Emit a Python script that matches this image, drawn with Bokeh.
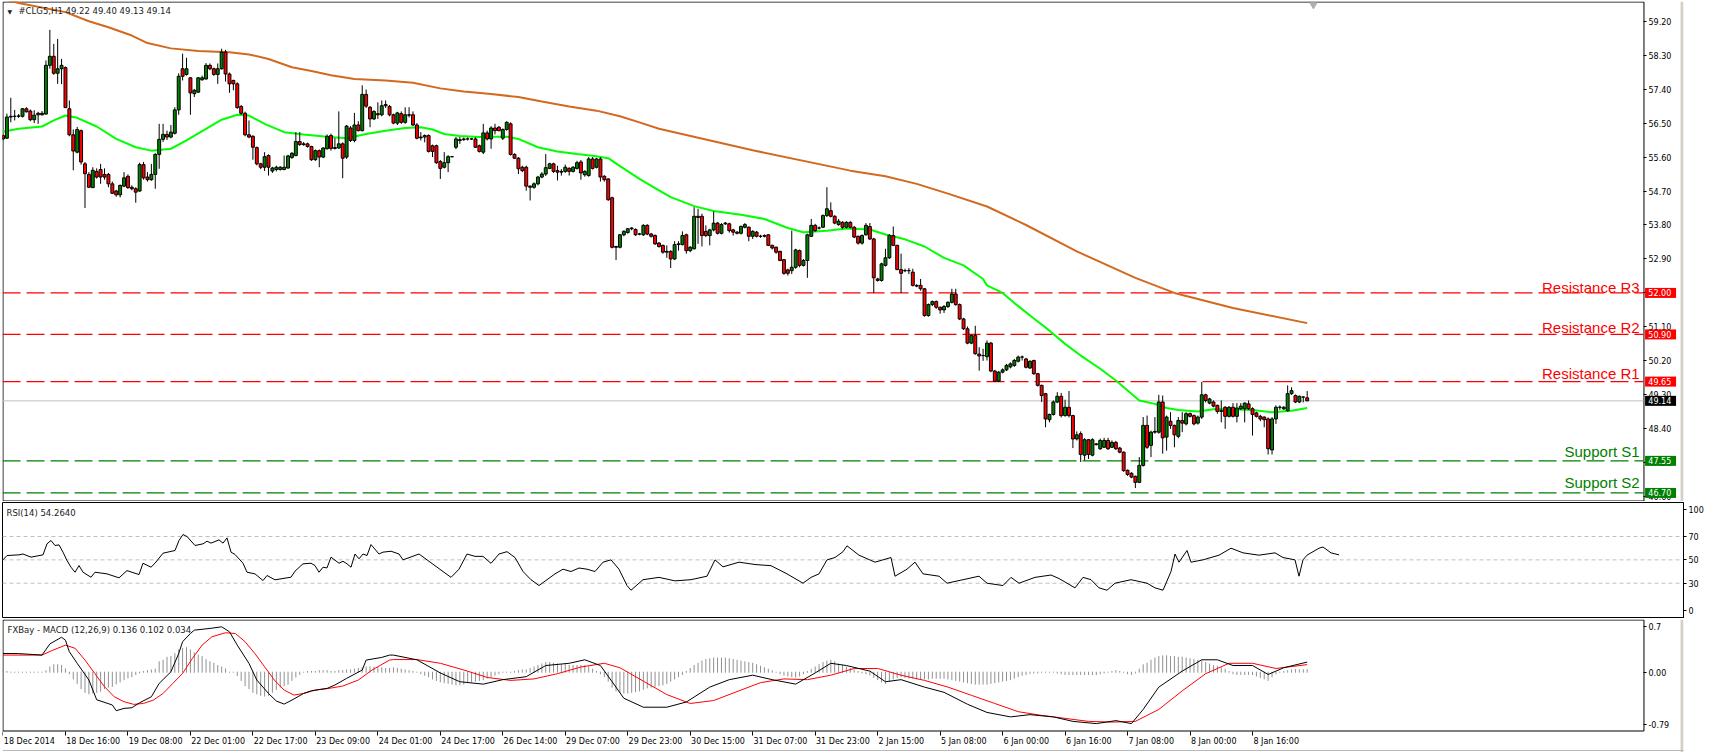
from bokeh.plotting import figure
from bokeh.models import Range1d, FixedTicker, ColumnDataSource, NumeralTickFormatter
from bokeh.layouts import column
from bokeh.embed import file_html
from bokeh.resources import INLINE
from bokeh.core.properties import value

# ---------------- data ----------------
opens = [56.17,56.10,56.66,56.68,56.68,56.68,56.88,56.82,56.59,56.76,56.72,56.74,58.03,58.27,57.82,57.94,57.97,56.88,56.19,55.73,
56.30,55.42,55.14,54.79,55.22,55.27,55.14,55.14,54.89,54.70,54.60,54.83,55.09,54.80,54.76,54.70,55.40,55.07,55.00,55.14,
55.67,56.07,56.20,56.13,56.23,56.85,57.94,57.79,57.70,57.28,57.32,57.65,57.67,58.03,57.94,57.79,57.94,58.38,57.80,57.63,
57.54,56.94,56.76,56.19,56.15,55.85,55.42,55.33,55.64,55.23,55.27,55.27,55.27,55.31,55.59,55.64,56.01,55.93,55.95,55.88,
55.53,55.77,55.60,55.82,56.17,55.83,55.84,55.95,55.60,56.37,56.04,56.45,56.30,57.26,56.92,56.61,56.75,56.72,56.96,56.94,
56.72,56.50,56.75,56.52,56.72,56.72,56.45,56.11,56.17,56.17,55.90,55.90,55.48,55.33,55.45,55.61,55.86,56.06,56.06,56.08,
56.08,56.08,55.90,55.73,56.24,56.08,56.37,56.39,56.10,56.33,56.48,55.67,55.57,55.33,55.33,54.83,54.80,54.89,55.07,55.15,
55.30,55.42,55.24,55.20,55.22,55.30,55.22,55.30,55.47,55.13,55.11,55.55,55.33,55.55,55.09,55.02,54.52,53.23,53.21,53.54,
53.60,53.70,53.68,53.56,53.54,53.79,53.56,53.52,53.32,53.26,53.08,53.10,52.90,53.28,53.28,53.54,53.12,53.17,54.03,54.03,
53.63,53.52,53.67,53.85,53.58,53.83,53.83,53.67,53.61,53.58,53.74,53.74,53.50,53.61,53.50,53.50,53.54,53.26,53.21,53.10,
52.88,52.61,52.59,52.68,53.12,52.73,52.86,53.50,53.79,53.72,53.74,54.05,54.18,54.03,53.81,53.87,53.74,53.87,53.74,53.50,
53.32,53.54,53.76,53.43,52.37,52.33,52.73,52.93,53.52,53.26,52.62,52.59,52.59,52.55,52.20,52.20,52.11,51.40,51.69,51.77,
51.62,51.55,51.64,51.75,51.97,51.69,51.31,51.05,50.67,50.87,50.38,50.34,50.31,50.67,49.93,49.66,49.90,49.96,50.04,50.08,
50.19,50.30,50.25,50.01,50.21,49.86,49.55,49.33,48.64,48.78,49.11,49.26,48.75,48.97,48.75,48.13,48.27,47.70,48.11,47.70,
48.00,47.87,47.91,48.09,47.91,48.04,47.89,47.78,47.30,47.22,47.14,46.98,47.43,48.49,47.96,48.31,48.31,49.11,48.18,48.60,
48.49,48.20,48.62,48.53,48.80,48.75,48.55,48.71,49.30,49.08,49.11,49.02,48.88,48.97,48.73,48.97,48.73,48.93,48.93,49.06,
48.93,48.82,48.73,48.71,48.66,47.84,48.66,48.97,48.93,48.88,49.33,49.28,49.11,49.24,49.22]
highs = [56.20,56.75,57.17,56.85,56.74,56.90,56.92,56.86,56.84,56.80,56.82,58.16,58.97,58.60,58.73,58.20,58.00,57.10,56.33,56.40,
56.33,55.47,55.20,55.33,55.30,55.42,55.30,55.18,54.95,54.73,54.87,55.20,55.14,54.85,54.80,55.45,55.47,55.20,55.42,55.70,
56.48,56.48,56.30,56.45,56.92,57.82,58.34,58.23,57.72,57.40,57.72,57.76,58.09,58.08,57.97,58.08,58.47,58.44,57.84,57.65,
57.58,56.98,56.80,56.57,56.18,55.88,55.45,55.73,55.67,55.34,55.37,55.36,55.64,55.66,55.73,56.26,56.26,56.00,55.98,55.90,
55.80,55.80,55.86,56.20,56.22,56.10,56.81,55.99,56.45,56.42,56.77,56.55,57.50,57.39,56.95,56.84,57.05,57.10,57.10,56.98,
56.75,56.80,56.81,56.92,56.92,56.81,56.50,56.26,56.20,56.20,55.93,55.93,55.52,55.73,55.65,55.63,56.13,56.13,56.12,56.12,
56.10,56.12,55.93,56.48,56.30,56.42,56.48,56.42,56.36,56.55,56.52,55.70,55.60,55.37,55.37,54.85,54.93,55.10,55.20,55.68,
55.45,55.45,55.37,55.28,55.40,55.33,55.36,55.50,55.52,55.25,55.60,55.60,55.58,55.60,55.12,55.04,54.55,53.25,53.56,53.66,
53.72,53.74,53.71,53.59,53.82,53.82,53.59,53.55,53.35,53.28,53.26,53.13,53.37,53.37,53.63,53.57,53.24,54.27,54.23,54.10,
53.79,53.70,54.16,53.88,53.85,53.88,53.86,53.70,53.64,53.79,53.85,53.76,53.66,53.64,53.54,53.55,53.56,53.28,53.23,53.12,
52.90,52.64,53.65,53.17,53.15,52.90,53.57,53.96,53.83,53.76,54.08,54.80,54.40,54.06,53.96,53.90,53.90,53.90,53.77,53.52,
53.55,53.85,53.85,53.46,52.40,52.80,53.17,53.56,53.76,53.28,53.04,52.64,52.66,52.64,52.23,52.37,52.13,51.72,51.80,51.80,
51.64,51.68,51.78,52.11,52.11,51.72,51.34,51.11,50.90,51.13,50.56,50.52,50.74,50.70,49.96,49.93,50.00,50.12,50.16,50.25,
50.34,50.34,50.28,50.21,50.23,49.88,49.57,49.35,48.80,49.15,49.37,49.35,49.17,49.40,48.77,48.33,48.33,48.15,48.13,48.15,
48.02,48.14,48.16,48.16,48.09,48.08,47.92,47.80,47.32,47.25,47.16,47.65,48.71,48.75,48.35,48.71,49.30,49.28,48.75,48.84,
48.51,48.71,48.84,48.84,48.83,48.78,48.75,49.64,49.33,49.22,49.15,49.04,49.15,49.00,49.00,49.08,49.08,49.08,49.10,49.15,
48.97,48.85,48.77,48.73,48.70,48.71,49.02,49.02,49.00,49.55,49.50,49.31,49.28,49.26,49.40]
lows = [56.05,56.08,56.52,56.57,56.64,56.65,56.78,56.55,56.50,56.48,56.70,56.72,57.94,57.78,57.54,57.53,56.90,56.15,55.25,55.70,
55.40,54.25,54.78,54.78,55.03,54.89,55.00,54.80,54.62,54.55,54.53,54.80,54.76,54.72,54.39,54.68,55.00,54.95,54.97,54.76,
55.29,56.00,56.05,56.10,56.20,56.72,57.63,57.76,56.72,57.19,57.30,57.62,57.65,57.90,57.75,57.54,57.92,57.60,57.30,57.37,
56.88,56.72,56.15,56.10,55.53,55.38,55.28,55.23,55.11,55.18,55.22,55.24,55.25,55.29,55.55,55.62,55.90,55.90,55.85,55.50,
55.50,55.33,55.57,55.80,55.77,55.80,55.82,55.04,55.55,56.00,55.99,56.28,56.28,56.90,56.39,56.58,56.61,56.68,56.90,56.68,
56.47,56.45,56.48,56.48,56.65,56.42,56.07,56.04,55.99,55.72,55.60,55.42,55.02,55.30,55.20,55.59,55.81,55.95,56.03,56.04,
56.05,55.84,55.72,55.68,56.04,55.82,56.20,56.28,56.05,56.30,55.64,55.55,55.15,55.20,54.71,54.45,54.76,54.85,55.04,55.10,
55.28,55.18,54.98,55.11,55.18,55.11,55.19,55.27,55.00,55.08,55.08,55.27,55.30,54.95,54.95,54.44,53.18,52.87,53.18,53.50,
53.57,53.66,53.51,53.53,53.51,53.53,53.47,53.27,53.20,53.04,52.93,52.66,52.87,53.12,53.26,53.04,53.08,53.15,53.30,53.23,
53.48,53.26,53.63,53.55,53.55,53.80,53.60,53.52,53.55,53.55,53.71,53.37,53.43,53.47,53.46,53.47,53.24,53.15,53.04,52.84,
52.48,52.46,52.50,52.64,52.68,52.70,52.40,53.48,53.62,53.68,53.72,54.01,54.00,53.82,53.78,53.70,53.71,53.71,53.45,53.28,
53.28,53.52,53.40,52.00,52.30,52.30,52.70,52.90,53.24,52.60,52.00,52.55,52.50,52.17,52.15,52.06,51.37,51.37,51.65,51.58,
51.45,51.47,51.60,51.72,51.66,51.28,51.02,50.64,50.64,50.36,49.94,50.20,50.21,49.90,49.64,49.64,49.87,49.93,50.00,50.04,
50.16,50.21,50.00,49.99,49.83,49.52,49.11,48.44,48.57,48.75,49.08,48.70,48.72,48.70,47.89,48.09,47.52,47.56,47.60,47.67,
47.96,47.84,47.89,47.84,47.89,47.84,47.75,47.26,47.15,47.09,46.83,46.96,47.40,47.87,47.65,48.27,48.27,47.74,47.82,48.40,
47.91,48.15,48.31,48.49,48.70,48.49,48.51,48.66,49.10,49.05,48.97,48.80,48.57,48.40,48.70,48.70,48.57,48.90,48.57,48.90,
48.22,48.70,48.60,48.44,47.72,47.72,48.53,48.90,48.90,48.86,49.30,49.08,49.08,49.10,49.13]
closes = [56.08,56.66,56.68,56.68,56.69,56.88,56.80,56.59,56.71,56.72,56.76,58.03,58.27,57.82,57.94,58.03,56.91,56.19,55.76,56.33,
55.47,55.16,54.80,55.25,55.07,55.07,55.07,54.89,54.64,54.60,54.85,55.05,54.79,54.76,54.67,55.40,55.05,55.00,55.14,55.67,
56.07,56.20,56.13,56.26,56.85,57.74,57.74,57.94,57.30,57.37,57.70,57.70,58.03,57.94,57.79,57.94,58.38,57.80,57.54,57.54,
56.91,56.76,56.19,56.13,55.86,55.42,55.33,55.61,55.33,55.31,55.33,55.33,55.33,55.63,55.70,56.01,55.93,55.95,55.88,55.53,
55.77,55.60,55.84,56.15,55.83,55.85,55.95,55.57,56.42,56.04,56.45,56.30,57.26,56.95,56.61,56.81,56.72,56.96,56.99,56.72,
56.50,56.77,56.52,56.72,56.71,56.45,56.10,56.13,56.13,55.75,55.75,55.45,55.30,55.45,55.61,55.61,56.08,56.04,56.08,56.08,
56.08,55.86,55.75,56.24,56.08,56.37,56.30,56.30,56.33,56.52,55.67,55.57,55.29,55.24,54.83,54.80,54.89,55.07,55.15,55.32,
55.42,55.22,55.20,55.22,55.33,55.22,55.33,55.45,55.18,55.22,55.55,55.30,55.55,55.07,55.00,54.47,53.21,53.21,53.54,53.63,
53.70,53.72,53.54,53.56,53.79,53.56,53.50,53.30,53.23,53.08,53.10,52.90,53.28,53.30,53.52,53.12,53.21,54.03,54.00,53.52,
53.52,53.67,53.85,53.58,53.81,53.85,53.65,53.61,53.58,53.76,53.81,53.50,53.63,53.50,53.50,53.52,53.26,53.19,53.08,52.86,
52.52,52.52,52.68,53.14,52.73,52.86,53.54,53.79,53.65,53.72,54.05,54.23,54.03,53.85,53.90,53.74,53.87,53.74,53.48,53.32,
53.52,53.79,53.43,52.40,52.33,52.77,52.93,53.52,53.26,52.62,52.52,52.59,52.59,52.20,52.18,52.11,51.40,51.69,51.77,51.62,
51.55,51.64,51.75,51.97,51.69,51.31,51.05,50.67,50.87,50.39,50.33,50.34,50.67,49.93,49.66,49.90,49.96,50.08,50.12,50.21,
50.30,50.30,50.03,50.19,49.86,49.55,49.28,48.66,48.78,49.11,49.26,48.75,48.97,48.75,48.13,48.24,47.72,48.11,47.72,48.11,
47.98,48.09,48.09,47.87,48.04,47.87,47.78,47.29,47.19,47.12,46.98,47.43,48.49,47.91,48.31,48.33,49.11,48.16,48.71,48.49,
48.24,48.62,48.55,48.80,48.73,48.53,48.71,49.30,49.15,49.19,49.00,48.86,48.86,48.73,48.97,48.73,48.95,49.00,49.08,48.93,
48.78,48.73,48.66,48.64,47.87,48.66,48.97,48.97,48.97,49.33,49.41,49.11,49.26,49.24,49.14]

# x-axis tick labels (one every 16 bars)
date_labels = ["18 Dec 2014","18 Dec 16:00","19 Dec 08:00","22 Dec 01:00","22 Dec 17:00","23 Dec 09:00","24 Dec 01:00",
"24 Dec 17:00","26 Dec 14:00","29 Dec 07:00","29 Dec 23:00","30 Dec 15:00","31 Dec 07:00","31 Dec 23:00","2 Jan 15:00",
"5 Jan 08:00","6 Jan 00:00","6 Jan 16:00","7 Jan 08:00","8 Jan 00:00","8 Jan 16:00"]
date_bars = [0,16,32,48,64,80,96,112,128,144,160,176,192,208,224,240,256,272,288,304,320]

# moving averages (sampled along the line)
ma_fast_x = [0,4,8,10,13,16,19,24,29,34,38,43,47,51,56,60,63,67,72,77,83,88,93,98,103,107,110,113,117,122,125,129,132,137,142,
147,152,155,158,163,168,171,177,182,189,195,201,205,211,216,222,226,231,236,241,246,251,252,256,260,264,268,272,276,281,285,
289,291,295,298,301,306,310,315,320,325,330,334]
ma_fast_y = [56.27,56.35,56.39,56.41,56.57,56.70,56.64,56.41,56.08,55.86,55.77,55.82,56.04,56.29,56.59,56.72,56.70,56.48,56.26,
56.20,56.14,56.10,56.21,56.30,56.37,56.39,56.33,56.21,56.16,56.13,56.14,56.14,56.08,55.86,55.75,55.68,55.62,55.57,55.36,55.02,
54.72,54.54,54.30,54.17,54.07,53.96,53.72,53.61,53.65,53.71,53.68,53.55,53.42,53.23,52.93,52.73,52.37,52.20,52.00,51.65,51.32,
51.00,50.65,50.34,49.99,49.68,49.33,49.15,49.06,48.95,48.90,48.86,48.92,48.92,48.90,48.84,48.88,48.95]
ma_slow_x = [0,4,16,22,27,33,37,43,50,58,63,68,74,79,84,90,98,105,112,118,125,132,138,145,152,158,163,168,192,217,226,234,242,
252,262,275,290,300,315,334]
ma_slow_y = [59.80,59.68,59.44,59.20,59.04,58.82,58.62,58.48,58.41,58.38,58.32,58.20,57.98,57.88,57.77,57.67,57.63,57.57,57.42,
57.34,57.27,57.19,57.07,56.94,56.83,56.68,56.52,56.35,55.78,55.24,55.09,54.89,54.63,54.29,53.80,53.10,52.40,52.00,51.60,51.20]

# support / resistance
res_levels = [52.00, 50.90, 49.65]
res_names = ["Resistance R3", "Resistance R2", "Resistance R1"]
sup_levels = [47.55, 46.70]
sup_names = ["Support S1", "Support S2"]

price_ticks = [59.20,58.30,57.40,56.50,55.60,54.70,53.80,52.90,52.00,51.10,50.20,49.30,48.40,47.50,46.60]

# RSI(14) sampled along the line
rsi_x = [0,1,4,5,7,10,11,12,13,14,15,16,17,18,19,20,22,23,26,29,31,34,35,37,38,40,43,44,45,46,48,50,51,52,54,55,56,57,58,60,
61,63,65,66,68,71,72,73,75,77,78,79,80,81,82,84,85,86,87,88,89,90,91,92,94,95,97,99,
100,104,108,110,112,114,116,118,120,122,124,126,128,130,132,134,136,138,140,142,144,146,148,150,152,154,156,157,160,164,168,
172,176,178,180,184,188,192,196,200,202,204,206,208,210,211,214,218,222,223,226,228,230,234,236,240,244,246,250,252,254,258,
262,264,266,268,270,272,274,276,278,282,286,288,290,292,293,294,296,297,300,304,307,310,314,318,320,323,324,325,326,329,330,
332,334]
rsi_y = [50,53.7,54.3,55,52.3,54.3,63.7,66.6,62.3,62.8,56.6,49.4,43.7,39.4,45.1,39.4,35.1,39.4,38,34.6,40.8,37.4,47.1,43.7,47.1,
55.7,58,66.6,71.7,70,62.3,63.7,66,64.3,67.1,64.3,68.8,56.6,54.6,47.1,39.4,38,32.3,36.6,32.9,34.6,35.1,40.3,46.6,47.1,45.1,39.4,
43.7,43.1,52.3,47.1,48.8,46.6,43.7,55,50.9,55,53.7,63.1,55,56.6,57.4,55,
50,55,45,40,35,42,55,53,53,47,55,57,52,40,33,28,33,38,42,40,43,42,40,48,50,42,28,24,33,35,32,
33,36,50,44,48,46,45,38,30,35,38,50,52,57,62,54,48,52,36,42,48,38,36,30,33,36,30,28,35,30,35,
37,34,30,26,35,33,26,24,30,33,30,26,24,40,55,48,58,48,50,54,60,56,54,56,52,50,36,50,54,60,61,
56,54.264]
rsi_levels = [70, 50, 30]
rsi_ticks = [93.3, 70, 50, 30, 6.2]
rsi_tick_labels = ["100", "70", "50", "30", "0"]

# MACD (12,26,9)
macd_x = [0,4,10,12,15,16,17,19,22,24,28,29,31,33,35,38,40,43,45,46,48,49,53,56,58,60,63,65,68,70,72,74,77,79,83,85,88,92,93,97,
99,100,106,112,117,123,128,134,139,145,149,153,156,159,164,170,175,181,186,192,197,203,208,212,216,222,226,230,236,241,247,252,
258,263,269,274,280,285,289,292,296,302,307,311,315,320,324,328,334]
macd_main = [0.252,0.25,0.23,0.38,0.47,0.43,0.275,0.12,-0.105,-0.37,-0.44,-0.517,-0.486,-0.477,-0.41,-0.33,-0.15,0.006,0.25,0.41,
0.52,0.565,0.588,0.61,0.543,0.364,0.118,-0.105,-0.285,-0.387,-0.428,-0.374,-0.285,-0.249,-0.217,-0.172,-0.083,0.029,0.163,0.199,
0.23,0.23,0.167,-0.01,-0.128,-0.16,-0.1,-0.06,0.09,0.12,0.167,0.09,-0.128,-0.35,-0.47,-0.47,-0.40,-0.20,-0.1,-0.04,-0.1,-0.16,
-0.01,0.12,0.09,0.015,-0.128,-0.1,-0.2,-0.27,-0.43,-0.54,-0.6,-0.57,-0.6,-0.66,-0.69,-0.65,-0.69,-0.5,-0.2,0.015,0.167,0.167,
0.09,0.09,-0.03,0.06,0.136]
signal_x = [0,10,12.5,16,18.5,21,23.5,26,28.5,31,33.5,36,38.5,41,43.5,46,48.5,51,53.5,57,59.5,62,64.5,67,69.5,72,74.5,77,80,83.5,
87,91,94.5,99,100,106,112,118,124,130,136,142,148,154,158,164,170,176,182,188,194,200,206,212,218,224,230,236,242,248,254,260,
266,272,278,284,290,296,302,308,314,320,326,334]
macd_signal = [0.23,0.23,0.29,0.364,0.32,0.163,-0.016,-0.195,-0.33,-0.396,-0.432,-0.419,-0.374,-0.285,-0.15,-0.016,0.185,0.364,
0.476,0.53,0.52,0.41,0.252,0.073,-0.105,-0.24,-0.307,-0.285,-0.24,-0.217,-0.186,-0.105,0.029,0.163,0.17,0.17,0.12,0.03,-0.07,
-0.11,-0.09,-0.02,0.07,0.12,0.06,-0.12,-0.3,-0.42,-0.38,-0.26,-0.14,-0.09,-0.1,-0.04,0.05,0.05,-0.04,-0.11,-0.2,-0.31,-0.42,
-0.53,-0.58,-0.62,-0.66,-0.67,-0.66,-0.5,-0.25,-0.02,0.12,0.12,0.05,0.102]
macd_hist = [0.01,0.01,0.0,0.0,0.0,0.0,0.0,0.0,0.0,0.0,0.0,0.02,0.07,0.10,0.10,0.09,0.045,-0.02,-0.09,-0.15,
-0.22,-0.27,-0.29,-0.28,-0.27,-0.255,-0.22,-0.20,-0.19,-0.155,-0.13,-0.10,-0.075,-0.06,-0.03,-0.01,0.01,0.02,0.03,0.04,
0.14,0.16,0.20,0.21,0.25,0.30,0.32,0.33,0.30,0.26,0.23,0.21,0.17,0.14,0.12,0.09,0.07,0.045,0.0,0.0,
-0.045,-0.11,-0.18,-0.22,-0.27,-0.29,-0.31,-0.32,-0.31,-0.27,-0.23,-0.20,-0.18,-0.16,-0.11,-0.065,-0.03,0.0,0.01,0.01,
0.01,0.02,0.02,0.02,0.01,0.01,0.02,0.02,0.03,0.03,0.04,0.05,0.06,0.07,0.07,0.07,0.06,0.06,0.05,0.05,
0.06,0.05,0.04,0.03,0.02,0.01,0.0,-0.02,-0.04,-0.06,-0.09,-0.11,-0.13,-0.14,-0.15,-0.16,-0.17,-0.17,-0.16,-0.14,
-0.13,-0.12,-0.11,-0.10,-0.08,-0.06,-0.04,-0.02,0.0,0.0,0.0,0.01,0.02,0.03,0.03,0.05,0.07,0.09,0.11,0.13,
0.13,0.12,0.11,0.10,0.10,0.09,0.09,0.09,0.09,0.09,0.07,0.04,0.01,-0.02,-0.06,-0.12,-0.20,-0.25,-0.27,-0.28,
-0.28,-0.27,-0.26,-0.25,-0.23,-0.21,-0.20,-0.19,-0.18,-0.17,-0.15,-0.12,-0.09,-0.06,-0.03,0.01,0.05,0.09,0.12,0.15,
0.17,0.18,0.19,0.19,0.19,0.19,0.18,0.17,0.16,0.15,0.14,0.13,0.12,0.10,0.08,0.06,0.04,0.02,0.0,-0.02,
-0.04,-0.05,-0.06,-0.065,-0.05,-0.02,0.01,0.04,0.07,0.10,0.13,0.15,0.16,0.14,0.11,0.09,0.07,0.05,0.03,0.01,
-0.01,-0.02,-0.035,-0.07,-0.10,-0.13,-0.15,-0.12,-0.09,-0.07,-0.06,-0.07,-0.08,-0.08,-0.09,-0.09,-0.09,-0.09,-0.08,-0.08,
-0.08,-0.08,-0.09,-0.10,-0.11,-0.12,-0.13,-0.14,-0.15,-0.16,-0.16,-0.16,-0.16,-0.15,-0.14,-0.13,-0.12,-0.11,-0.10,-0.08,
-0.06,-0.04,-0.03,-0.015,-0.01,-0.01,0.0,0.0,0.0,0.0,-0.01,-0.02,-0.03,-0.03,-0.03,-0.03,-0.03,-0.03,-0.03,-0.03,
-0.03,-0.02,-0.01,0.0,0.01,0.02,0.01,0.0,-0.02,-0.03,-0.01,0.04,0.10,0.12,0.16,0.19,0.21,0.22,0.22,0.21,
0.21,0.20,0.20,0.19,0.18,0.17,0.16,0.15,0.13,0.11,0.09,0.08,0.06,0.04,0.01,-0.02,-0.03,-0.03,-0.03,-0.03,
-0.03,-0.05,-0.07,-0.09,-0.11,-0.06,-0.02,0.0,0.01,0.02,0.03,0.035,0.03,0.034,0.034]
macd_ticks = [0.61, 0.0, -0.70]
macd_tick_labels = ["0.7", "0.00", "-0.79"]

# ---------------- layout constants (pixels of the 1724 x 752 page) ----------------
N = len(closes)
W = 1724
X0 = -0.125                      # bar i sits at page x = 2.5 + 4 i
X1 = X0 + (W - 2) / 4.0          # price / MACD frames run to the right page edge
FONT = "DejaVu Sans"


def px_x(px):
    return X0 + (px - 2) / 4.0


X_EDGE = px_x(1683)              # right edge of the plotting area / scale line
P_LO, P_HI = 46.473, 59.722      # price pane: page y 1..501
R_LO, R_HI = -0.23, 99.12        # RSI pane:   page y 502..618
M_PPU = 0.01343                  # MACD pane:  page y 619..752, value per pixel
M_HI = 0.708
M_LO = M_HI - 133 * M_PPU


def style_yaxis(ax):
    ax.major_tick_out = 3
    ax.major_tick_in = 0
    ax.minor_tick_line_color = None
    ax.major_label_standoff = 2
    ax.major_label_text_font = FONT
    ax.major_label_text_font_size = "8px"
    ax.major_label_text_color = "black"


def make_fig(height, y0, y1, xaxis=False):
    p = figure(width=W, height=height, x_range=Range1d(X0, X1), y_range=Range1d(y0, y1),
               output_backend="svg", toolbar_location=None, y_axis_location="right",
               x_axis_location="below" if xaxis else None,
               min_border_left=2, min_border_right=0, min_border_top=1, min_border_bottom=0)
    p.grid.visible = False
    p.outline_line_color = None
    p.background_fill_color = "white"
    p.border_fill_color = "white"
    ax = p.yaxis[0]
    ax.fixed_location = X_EDGE
    ax.axis_line_color = None
    style_yaxis(ax)
    return p


def frame_box(p, y_top, y_bot):
    L, R = px_x(2.5), px_x(1683.5)
    p.segment(x0=[L, L, L, R], y0=[y_top, y_bot, y_bot, y_bot], x1=[R, R, L, R], y1=[y_top, y_bot, y_top, y_top],
              line_color="black", line_width=1)
    p.quad(left=[px_x(1721)], right=[X1], bottom=[p.y_range.start], top=[p.y_range.end],
           fill_color="#D4D0C8", line_color=None)


# ---------------- price pane ----------------
p1 = make_fig(501, P_LO, P_HI)
p1.yaxis[0].ticker = FixedTicker(ticks=price_ticks)
p1.yaxis[0].formatter = NumeralTickFormatter(format="0.00")
pdy = (P_HI - P_LO) / 500.0
frame_box(p1, P_HI - 0.5 * pdy, P_LO + 0.5 * pdy)

idx = list(range(N))
src = ColumnDataSource(dict(
    x=idx, o=opens, h=highs, l=lows, c=closes,
    top=[max(o, c) for o, c in zip(opens, closes)],
    bot=[min(o, c) for o, c in zip(opens, closes)],
    col=["#008000" if c >= o else "#FF0000" for o, c in zip(opens, closes)],
))

# level lines
p1.segment(x0=[X0] * 3, x1=[X_EDGE] * 3, y0=res_levels, y1=res_levels, line_color="#FF0000", line_dash="18 6", line_width=1.3)
p1.segment(x0=[X0] * 2, x1=[X_EDGE] * 2, y0=sup_levels, y1=sup_levels, line_color="#008000", line_dash="18 6", line_width=1.3)
p1.segment(x0=[X0], x1=[X_EDGE], y0=[closes[-1]], y1=[closes[-1]], line_color="#C0C0C0", line_width=1)

p1.line(ma_slow_x, ma_slow_y, line_color="#D2691E", line_width=2)
p1.line(ma_fast_x, ma_fast_y, line_color="#00FF00", line_width=2)

p1.segment(x0="x", y0="l", x1="x", y1="h", source=src, line_color="black", line_width=1)
p1.vbar(x="x", width=0.75, top="top", bottom="bot", source=src, fill_color="col", line_color="black", line_width=1)

# level captions (sit just above their lines)
p1.text(x=[X_EDGE - 1.0] * 3, y=res_levels, text=res_names, text_align="right", text_baseline="middle",
        y_offset=[-5.7, -6.7, -7.9], text_color="#FF0000", text_font=value("Liberation Sans"), text_font_size="15px")
p1.text(x=[X_EDGE - 1.0] * 2, y=sup_levels, text=sup_names, text_align="right", text_baseline="middle",
        y_offset=[-9.5, -10.6], text_color="#008000", text_font=value("Liberation Sans"), text_font_size="15px")

# title
title = "#CLG5,H1  %.2f %.2f %.2f %.2f" % (opens[-1], highs[-1], lows[-1], closes[-1])
p1.text(x=[X0], y=[P_HI], text=[title], x_offset=16, y_offset=4, text_baseline="top",
        text_font=value(FONT), text_font_size="8.5px", text_color="#202020")
p1.text(x=[X0], y=[P_HI], text=["\u25bc"], x_offset=5, y_offset=6, text_baseline="top",
        text_font=value(FONT), text_font_size="6px", text_color="#202020")
p1.scatter(x=[N + 0.6], y=[P_HI - 0.09], marker="inverted_triangle", size=7, color="#B0B0B0")

# value boxes on the price scale (drawn above the axis labels)
box_vals = res_levels + [closes[-1]] + sup_levels
box_cols = ["#FF0000"] * len(res_levels) + ["black"] + ["#008000"] * len(sup_levels)
p1.rect(x=[px_x(1700.5)] * len(box_vals), y=box_vals, width=31, height=10, width_units="screen", height_units="screen",
        fill_color=box_cols, line_color=None, level="overlay")
p1.text(x=[px_x(1688)] * len(box_vals), y=box_vals, text=["%.2f" % v for v in box_vals], text_align="left",
        text_baseline="middle", text_color="white", text_font=value(FONT), text_font_size="8px", level="overlay")

# ---------------- RSI pane (ordinary right-hand scale, plot area ends at x = 1683) ----------------
p2 = figure(width=W, height=117, x_range=Range1d(X0, X_EDGE), y_range=Range1d(R_LO, R_HI),
            output_backend="svg", toolbar_location=None, y_axis_location="right", x_axis_location=None,
            min_border_left=2, min_border_right=W - 1683, min_border_top=1, min_border_bottom=0)
p2.grid.visible = False
p2.outline_line_color = "black"
p2.outline_line_width = 1
p2.background_fill_color = "white"
p2.border_fill_color = "white"
style_yaxis(p2.yaxis[0])
p2.yaxis[0].axis_line_color = "black"
p2.yaxis[0].ticker = FixedTicker(ticks=rsi_ticks)
p2.yaxis[0].major_label_overrides = dict(zip(rsi_ticks, rsi_tick_labels))
p2.segment(x0=[X0] * 3, x1=[X_EDGE] * 3, y0=rsi_levels, y1=rsi_levels, line_color="#C0C0C0", line_dash="4 3", line_width=1)
p2.line(rsi_x, rsi_y, line_color="black", line_width=1)
p2.text(x=[X0], y=[R_HI], text=["RSI(14) %.4f" % rsi_y[-1]], x_offset=4, y_offset=5, text_baseline="top",
        text_font=value(FONT), text_font_size="8.5px", text_color="#202020")

# ---------------- MACD pane ----------------
p3 = make_fig(134, M_LO, M_HI, xaxis=True)
p3.yaxis[0].ticker = FixedTicker(ticks=macd_ticks)
p3.yaxis[0].major_label_overrides = dict(zip(macd_ticks, macd_tick_labels))
frame_box(p3, M_HI - 0.5 * M_PPU, M_HI - 111.5 * M_PPU)
p3.segment(x0=[X0], x1=[X1], y0=[M_HI - 131 * M_PPU], y1=[M_HI - 131 * M_PPU], line_color="#B8B8B8", line_width=1)
p3.segment(x0=idx, y0=[0] * N, x1=idx, y1=macd_hist, line_color="#909090", line_width=1, line_cap="square")
p3.line(signal_x, macd_signal, line_color="#FF0000", line_width=1)
p3.line(macd_x, macd_main, line_color="black", line_width=1)
p3.text(x=[X0], y=[M_HI], text=["FXBay - MACD (12,26,9) %.3f %.3f %.3f" % (macd_main[-1], macd_signal[-1], macd_hist[-1])],
        x_offset=5, y_offset=5, text_baseline="top", text_font=value(FONT), text_font_size="8.5px", text_color="#202020")

# x axis (time): labels start just right of their tick
CW = {"0": 5.09, "1": 5.09, "2": 5.09, "3": 5.09, "4": 5.09, "5": 5.09, "6": 5.09, "7": 5.09, "8": 5.09, "9": 5.09,
      " ": 2.54, ":": 2.70, "D": 6.16, "e": 4.92, "c": 4.40, "J": 2.36, "a": 4.90, "n": 5.07}
centers = []
overrides = {}
for b, lab in zip(date_bars, date_labels):
    w = sum(CW.get(ch, 5.0) for ch in lab)
    cx = round(b + (1.5 + w / 2.0) / 4.0, 3)
    centers.append(cx)
    overrides[cx] = lab
xa = p3.xaxis[0]
xa.fixed_location = M_HI - 112 * M_PPU
xa.ticker = FixedTicker(ticks=centers, minor_ticks=date_bars)
xa.major_label_overrides = overrides
xa.axis_line_color = None
xa.major_tick_line_color = None
xa.major_tick_out = 4
xa.major_tick_in = 0
xa.minor_tick_line_color = "black"
xa.minor_tick_out = 4
xa.minor_tick_in = 0
xa.major_label_standoff = 1
xa.major_label_text_font = FONT
xa.major_label_text_font_size = "8px"
xa.major_label_text_color = "black"

layout = column(p1, p2, p3, spacing=0)
open("out.html", "w").write(file_html(layout, INLINE))
